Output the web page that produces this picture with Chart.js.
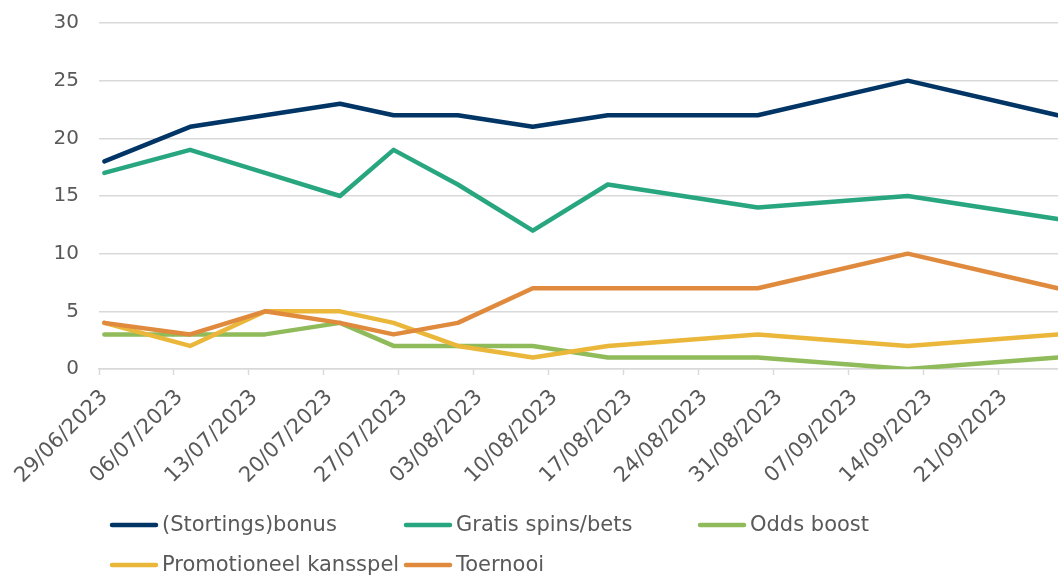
<!DOCTYPE html>
<html lang="nl">
<head>
<meta charset="UTF-8">
<title>Promoties per type</title>
<script src="https://cdn.jsdelivr.net/npm/chart.js"></script>
<style>
  body { margin: 0; background: #ffffff; overflow: hidden; }
  #wrap { width: 1058px; height: 577px; overflow: hidden; }
  canvas { display: block; }
</style>
</head>
<body>
<div id="wrap"><canvas id="chart" width="1063" height="577"></canvas></div>
<script>
// meetmomenten
const dates = ['29/06/2023', '07/07/2023', '14/07/2023', '21/07/2023', '26/07/2023', '01/08/2023',
               '08/08/2023', '15/08/2023', '29/08/2023', '12/09/2023', '26/09/2023'];

// labels op de x-as (wekelijks)
const tickDates = ['29/06/2023', '06/07/2023', '13/07/2023', '20/07/2023', '27/07/2023', '03/08/2023',
                   '10/08/2023', '17/08/2023', '24/08/2023', '31/08/2023', '07/09/2023', '14/09/2023', '21/09/2023'];

const stortingsbonus = [18, 21, 22, 23, 22, 22, 21, 22, 22, 25, 22];
const gratisSpins    = [17, 19, 17, 15, 19, 16, 12, 16, 14, 15, 13];
const oddsBoost      = [3, 3, 3, 4, 2, 2, 2, 1, 1, 0, 1];
const promoKansspel  = [4, 2, 5, 5, 4, 2, 1, 2, 3, 2, 3];
const toernooi       = [4, 3, 5, 4, 3, 4, 7, 7, 7, 10, 7];

const seriesNames  = ['(Stortings)bonus', 'Gratis spins/bets', 'Odds boost', 'Promotioneel kansspel', 'Toernooi'];
const seriesValues = [stortingsbonus, gratisSpins, oddsBoost, promoKansspel, toernooi];
const seriesColors = ['#003566', '#28a67f', '#90bb5a', '#ebb73b', '#e08a3e'];

const yTicks = [0, 5, 10, 15, 20, 25, 30];

// dagen sinds de eerste label-datum
function dayIndex(s) {
  const [d, m, y] = s.split('/').map(Number);
  const [d0, m0, y0] = tickDates[0].split('/').map(Number);
  return (Date.UTC(y, m - 1, d) - Date.UTC(y0, m0 - 1, d0)) / 86400000;
}

const FONT = "'DejaVu Sans', Verdana, sans-serif";
const GREY = '#595959';
const GRID = '#d9d9d9';

// legenda in drie kolommen, zoals in het origineel
const columnLegend = {
  id: 'columnLegend',
  afterDraw(chart) {
    const ctx = chart.ctx;
    ctx.save();
    ctx.font = '21px ' + FONT;
    ctx.textBaseline = 'middle';
    ctx.textAlign = 'left';
    chart.data.datasets.forEach((ds, i) => {
      const x = 110 + (i % 3) * 294;
      const y = 525 + Math.floor(i / 3) * 40;
      ctx.strokeStyle = ds.borderColor;
      ctx.lineWidth = 4.5;
      ctx.lineCap = 'round';
      ctx.beginPath();
      ctx.moveTo(x + 2, y);
      ctx.lineTo(x + 46, y);
      ctx.stroke();
      ctx.fillStyle = GREY;
      ctx.fillText(ds.label, x + 52, y + 1);
    });
    ctx.restore();
  }
};

const datasets = seriesNames.map((name, i) => ({
  label: name,
  data: dates.map((d, k) => ({ x: dayIndex(d) + 0.5, y: seriesValues[i][k] })),
  borderColor: seriesColors[i],
  backgroundColor: seriesColors[i],
  borderWidth: 4.5,
  borderJoinStyle: 'round',
  borderCapStyle: 'round',
  pointRadius: 0,
  tension: 0,
  fill: false,
  order: seriesNames.length - i
}));

Chart.defaults.font.family = FONT;
Chart.defaults.font.size = 20;
Chart.defaults.color = GREY;

new Chart(document.getElementById('chart'), {
  type: 'line',
  data: { datasets: datasets },
  options: {
    responsive: false,
    animation: false,
    layout: { padding: { top: 23, bottom: 78, left: 0, right: 0 } },
    plugins: {
      legend: { display: false },
      tooltip: { enabled: false }
    },
    scales: {
      x: {
        type: 'linear',
        min: 0,
        max: dayIndex(dates[dates.length - 1]) + 1,
        afterBuildTicks(scale) {
          scale.ticks = tickDates.map(d => ({ value: dayIndex(d) }));
        },
        afterFit(scale) {
          scale.height = 130;
          scale.paddingLeft = 0;
          scale.paddingRight = 0;
        },
        ticks: {
          autoSkip: false,
          minRotation: 45,
          maxRotation: 45,
          padding: 10,
          labelOffset: 5.5,
          font: { size: 21 },
          color: GREY,
          callback: (value, index) => tickDates[index]
        },
        grid: {
          display: true,
          drawOnChartArea: false,
          drawTicks: true,
          tickLength: 6,
          tickColor: GRID,
          tickWidth: 1.5
        },
        border: { display: true, color: GRID, width: 1.5 }
      },
      y: {
        min: 0,
        max: 30,
        afterBuildTicks(scale) {
          scale.ticks = yTicks.map(v => ({ value: v }));
        },
        afterFit(scale) {
          scale.width = 99;
          scale.paddingTop = 0;
          scale.paddingBottom = 0;
        },
        ticks: { padding: 20, color: GREY },
        grid: { color: GRID, lineWidth: 1.5, drawTicks: false },
        border: { display: false }
      }
    }
  },
  plugins: [columnLegend]
});
</script>
</body>
</html>
